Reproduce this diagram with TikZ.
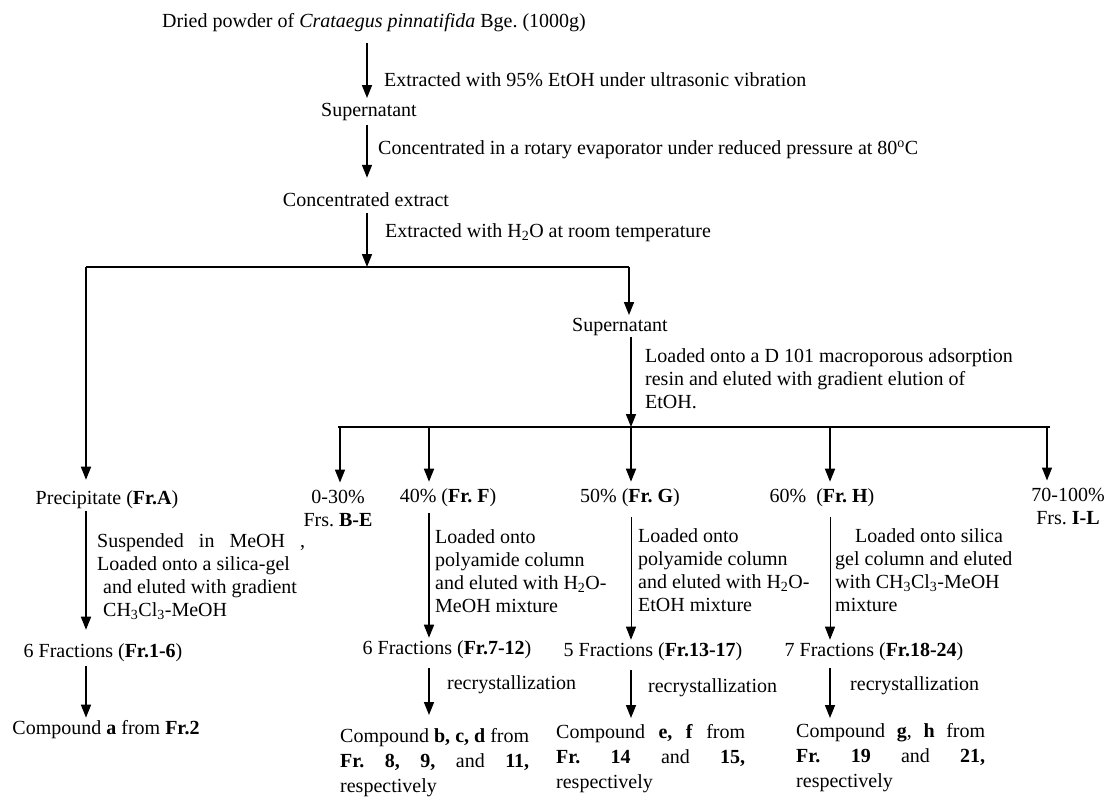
\documentclass[tikz,border=0pt]{standalone}
\usepackage{fontspec}
\setmainfont{Liberation Serif}
\usetikzlibrary{arrows.meta,positioning,calc}
\frenchspacing

\begin{document}
\begin{tikzpicture}[x=1pt,y=-1pt,
  every node/.style={font=\fontsize{20}{23}\selectfont,inner sep=0pt},
  note/.style={anchor=north west,align=left},
  arr/.style={-{Triangle[width=10pt,length=13pt]},line width=1.6pt},
  thinarr/.style={arr,line width=1pt},
  bar/.style={line width=1.4pt}]
\useasboundingbox (0,0) rectangle (1105,797);
% main extraction line
\node (dried) at (374,23) {Dried powder of \textit{Crataegus pinnatifida} Bge. (1000g)};
\node (sup1) at (369,112) {Supernatant};
\node (conc) at (366,200) {Concentrated extract};
\coordinate (j1) at (367,267);
\node[anchor=west] (ex1) at (384,80) {Extracted with 95\% EtOH under ultrasonic vibration};
\node[anchor=west] (ex2) at (378,150) {Concentrated in a rotary evaporator under reduced pressure at 80\textsuperscript{o}C};
\node[anchor=west] (ex3) at (385,233) {Extracted with H\textsubscript{2}O at room temperature};
\draw[arr,shorten <=11pt,shorten >=5pt] (dried.south -| j1) -- (sup1.north -| j1);
\draw[arr,shorten <=4pt,shorten >=15pt] (sup1.south -| j1) -- (conc.north -| j1);
\draw[arr,shorten <=6pt] (conc.south -| j1) -- (j1);
% first split
\coordinate (jl) at (86,267);
\coordinate (jr) at (629,267);
\draw[bar] (jl) -- (jr);
\node (prec) at (107,500) {Precipitate (\textbf{Fr.A})};
\node (sup2) at (620,327) {Supernatant};
\draw[arr,shorten >=11pt] (jl) -- (jl |- prec.north);
\draw[arr,shorten >=3pt] (jr) -- (jr |- sup2.north);
\node[note] (resin) at (645,348) {Loaded onto a D 101 macroporous adsorption\\resin and eluted with gradient elution of\\EtOH.};
\coordinate (j2) at (631,427);
\draw[arr,shorten <=1pt] (sup2.south -| j2) -- (j2);
% gradient fractions
\coordinate (gl) at (338,427);
\coordinate (gr) at (1050,427);
\coordinate (d030) at (340,427);
\coordinate (d40) at (429,427);
\coordinate (d60) at (830,427);
\coordinate (d70) at (1047,427);
\draw[bar] (gl) -- (gr);
\node[align=center] (f030) at (338,508) {0-30\%\\Frs. \textbf{B-E}};
\node (f40) at (448,498) {40\% (\textbf{Fr. F})};
\node (f50) at (630,498) {50\% (\textbf{Fr. G})};
\node (f60) at (822,498) {60\%\ \ (\textbf{Fr. H})};
\node[align=center] (f70) at (1068,506) {70-100\%\\Frs. \textbf{I-L}};
\foreach \d/\n in {d030/f030,d40/f40,j2/f50,d60/f60,d70/f70}
  \draw[arr,shorten >=7pt] (\d) -- (\d |- \n.north);
% precipitate branch
\node[note] (suspA) at (97,533) {\makebox[208pt][s]{Suspended in MeOH ,}\\Loaded onto a silica-gel\\\hspace*{6pt}and eluted with gradient\\\hspace*{6pt}CH\textsubscript{3}Cl\textsubscript{3}-MeOH};
\node (fr16) at (103,653) {6 Fractions (\textbf{Fr.1-6})};
\node (cmpa) at (106,730) {Compound \textbf{a} from \textbf{Fr.2}};
\draw[arr,shorten <=2pt,shorten >=14pt] (prec.south -| jl) -- (fr16.north -| jl);
\draw[arr,shorten <=4pt,shorten >=3pt] (fr16.south -| jl) -- (cmpa.north -| jl);
% 40% branch
\node[note] (polyF) at (435,529) {Loaded onto\\polyamide column\\and eluted with H\textsubscript{2}O-\\MeOH mixture};
\node (fr712) at (447,650) {6 Fractions (\textbf{Fr.7-12})};
\node[anchor=west] (recF) at (447,685) {recrystallization};
\node[note] (cmpF) at (340,728) {\makebox[189pt][s]{Compound \textbf{b, c, d} from}\\[2pt]\makebox[189pt][s]{\textbf{Fr.} \textbf{8,} \textbf{9,} and \textbf{11,}}\\[2pt]respectively};
\draw[arr,shorten <=6pt,shorten >=3pt] (f40.south -| d40) -- (fr712.north -| d40);
\draw[arr,shorten <=9pt,shorten >=13pt] (fr712.south -| d40) -- (cmpF.north -| d40);
% 50% branch
\node[note] (polyG) at (638,528) {Loaded onto\\polyamide column\\and eluted with H\textsubscript{2}O-\\EtOH mixture};
\node (fr1317) at (653,652) {5 Fractions (\textbf{Fr.13-17})};
\node[anchor=west] (recG) at (648,688) {recrystallization};
\node[note] (cmpG) at (556,724) {\makebox[189pt][s]{Compound \textbf{e, f} from}\\[2pt]\makebox[189pt][s]{\textbf{Fr.} \textbf{14} and \textbf{15,}}\\[2pt]respectively};
\draw[thinarr,shorten <=10pt,shorten >=3pt] (f50.south -| j2) -- (fr1317.north -| j2);
\draw[arr,shorten <=9pt,shorten >=6pt] (fr1317.south -| j2) -- (cmpG.north -| j2);
% 60% branch
\node[note] (silH) at (835,528) {\hspace*{20pt}Loaded onto silica\\gel column and eluted\\with CH\textsubscript{3}Cl\textsubscript{3}-MeOH\\mixture};
\node (fr1824) at (874,652) {7 Fractions (\textbf{Fr.18-24})};
\node[anchor=west] (recH) at (850,686) {recrystallization};
\node[note] (cmpH) at (796,723) {\makebox[189pt][s]{Compound \textbf{g}, \textbf{h} from}\\[2pt]\makebox[189pt][s]{\textbf{Fr.} \textbf{19} and \textbf{21,}}\\[2pt]respectively};
\draw[thinarr,shorten <=10pt,shorten >=3pt] (f60.south -| d60) -- (fr1824.north -| d60);
\draw[arr,shorten <=7pt,shorten >=5pt] (fr1824.south -| d60) -- (cmpH.north -| d60);
\end{tikzpicture}
\end{document}
